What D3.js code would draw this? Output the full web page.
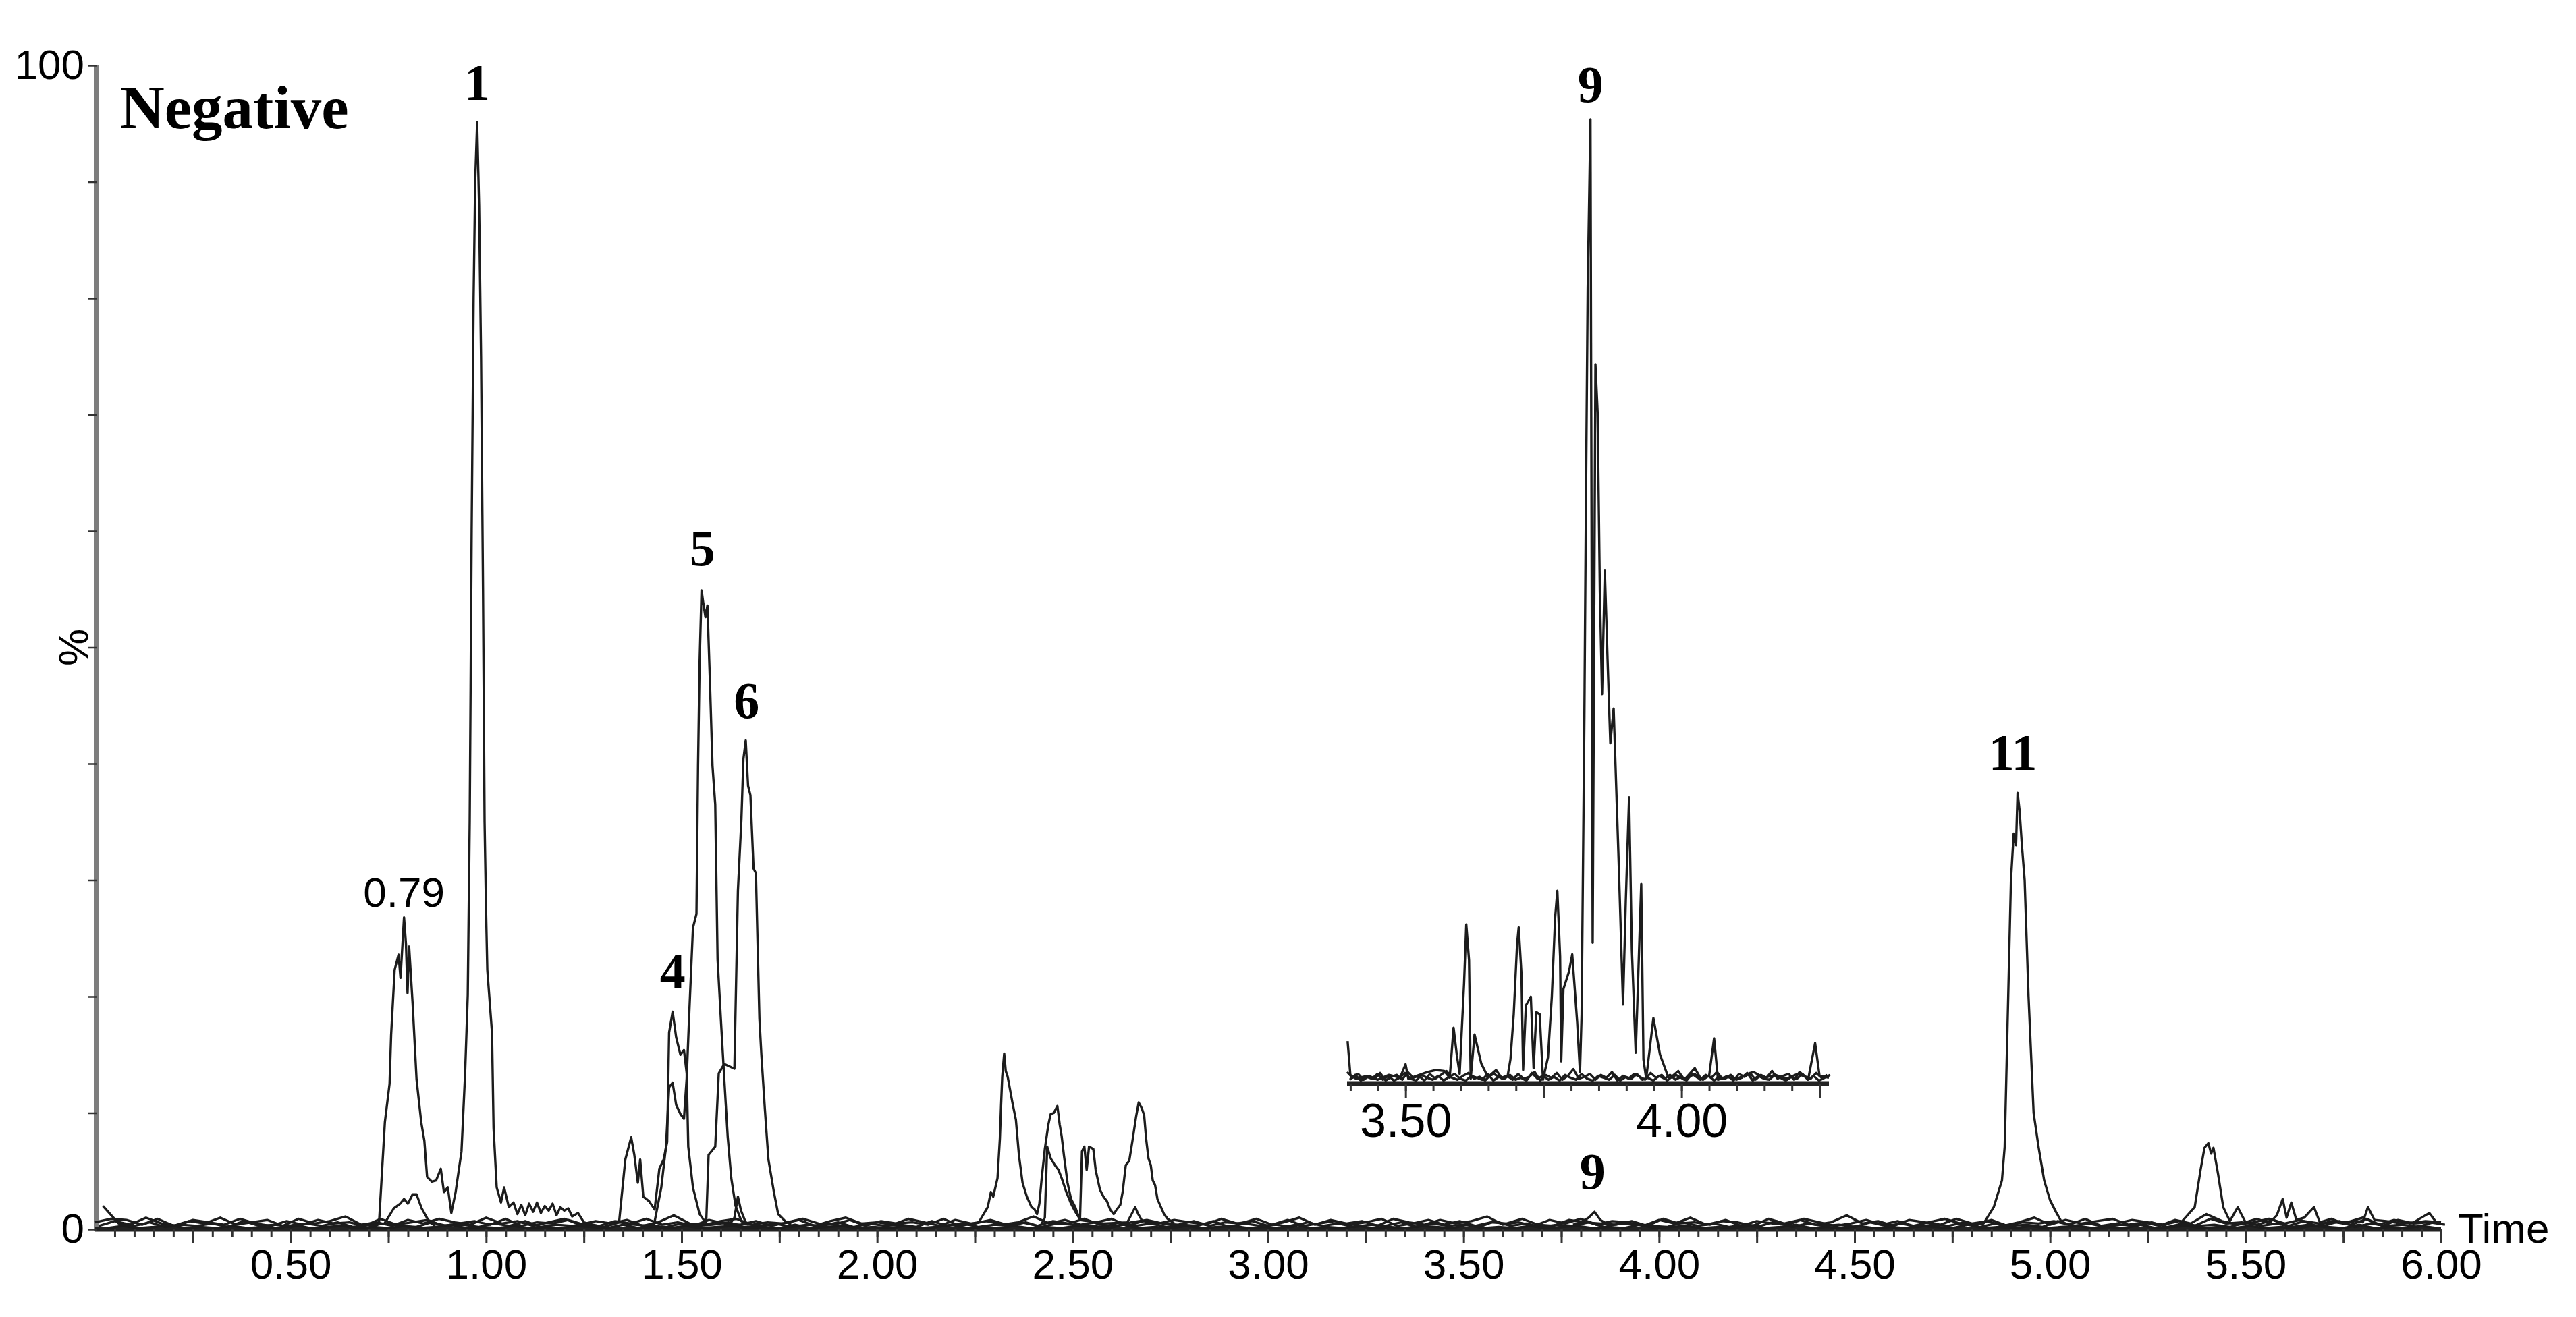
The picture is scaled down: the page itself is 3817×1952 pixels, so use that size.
<!DOCTYPE html>
<meta charset="utf-8">
<style>
    body { margin: 0; background: #fff; }
    svg { display: block; background: #fff; }

    .trace {
        fill: none;
        stroke: #1c1c1c;
        stroke-width: 3.4px;
        stroke-linejoin: round;
    }

    .axis-line {
        stroke: #7d7d7d;
        stroke-width: 6px;
    }

    .base-line {
        stroke: #222;
        stroke-width: 7px;
    }

    .axis .tick line {
        stroke: #333;
        stroke-width: 3px;
    }

    .axis text {
        font-family: "Liberation Sans", Arial, sans-serif;
        font-size: 62px;
        fill: #000;
    }

    .inset-axis text {
        font-size: 70px;
    }

    .peak-label {
        font-family: "Liberation Serif", "Times New Roman", serif;
        font-weight: bold;
        font-size: 76px;
        fill: #000;
    }

    .plain-label {
        font-family: "Liberation Sans", Arial, sans-serif;
        font-size: 62px;
        fill: #000;
    }
</style>
<svg width="3817" height="1952"></svg>
<script src="https://d3js.org/d3.v7.min.js"></script>
<script>
    // ---- data (time in min, intensity in %) ----

    // peak at 0.79 min running into peak 1
    var tracePeak1 = [[0.70,0.4],[0.715,0.2],[0.726,0.5],[0.741,9.2],[0.753,12.5],[0.757,16.7],[0.766,22.3],
        [0.776,23.6],[0.781,21.6],[0.79,26.8],[0.795,24.5],[0.799,20.3],[0.803,24.3],[0.812,19.4],[0.822,12.9],
        [0.834,9.2],[0.842,7.6],[0.849,4.5],[0.861,4.1],[0.872,4.2],[0.884,5.2],[0.892,3.2],[0.902,3.6],
        [0.911,1.4],[0.922,3.2],[0.937,6.7],[0.946,13.2],[0.953,20.1],[0.958,35],[0.963,60],[0.968,80],
        [0.972,90],[0.977,95.1],[0.982,88],[0.987,75],[0.992,55],[0.996,35],[1.0,27],[1.003,22.3],
        [1.015,16.9],[1.019,8.7],[1.027,3.6],[1.038,2.3],[1.046,3.6],[1.058,1.9],[1.07,2.3],[1.08,1.3],
        [1.09,2.1],[1.10,1.2],[1.11,2.2],[1.12,1.5],[1.13,2.3],[1.14,1.4],[1.15,2.0],[1.16,1.6],[1.17,2.2],
        [1.18,1.2],[1.19,1.9],[1.20,1.6],[1.21,1.8],[1.22,1.1],[1.235,1.4],[1.25,0.6],[1.27,0.4]];

    var traceSmall079 = [[0.70,0.3],[0.74,0.5],[0.764,1.8],[0.78,2.2],[0.79,2.6],[0.80,2.2],[0.812,3.0],
        [0.822,3.0],[0.835,1.8],[0.855,0.6],[0.87,0.3]];

    var tracePeak4 = [[1.32,0.4],[1.34,0.6],[1.356,6.0],[1.371,7.9],[1.379,6.4],[1.388,4.0],[1.394,6.0],
        [1.402,2.8],[1.417,2.4],[1.431,1.7],[1.443,5.2],[1.454,6.0],[1.463,7.5],[1.468,16.9],[1.477,18.7],
        [1.486,16.5],[1.497,15.0],[1.506,15.4],[1.513,13.4],[1.517,7.1],[1.529,3.6],[1.546,1.3],[1.563,0.5]];

    var tracePeak5 = [[1.42,0.4],[1.43,0.5],[1.448,3.6],[1.46,7.1],[1.468,12.2],[1.477,12.6],[1.486,10.7],
        [1.497,9.9],[1.506,9.5],[1.513,13.0],[1.52,18.9],[1.529,25.9],[1.538,27.1],[1.542,39.8],[1.546,48.7],
        [1.551,54.9],[1.555,53.9],[1.561,52.6],[1.566,53.6],[1.572,47.5],[1.579,39.8],[1.586,36.5],
        [1.592,23.2],[1.601,17.7],[1.609,13.0],[1.618,7.9],[1.627,4.4],[1.638,2.0],[1.653,0.7],[1.67,0.4]];

    var tracePeak6 = [[1.55,0.4],[1.563,0.7],[1.569,6.4],[1.586,7.1],[1.595,13.4],[1.609,14.2],[1.635,13.8],
        [1.644,29.1],[1.653,35.3],[1.658,40.4],[1.664,42.0],[1.67,38.1],[1.676,37.3],[1.684,31.0],[1.69,30.6],
        [1.699,18.1],[1.704,15.0],[1.713,10.3],[1.722,6.0],[1.736,3.2],[1.747,1.3],[1.765,0.7],[1.78,0.4]];

    var traceSmall16 = [[1.62,0.3],[1.635,1.0],[1.644,2.8],[1.652,1.6],[1.665,0.5]];

    var traceMid = [[2.24,0.4],[2.26,0.6],[2.283,1.9],[2.291,3.2],[2.297,2.8],[2.308,4.4],[2.314,7.8],
        [2.317,10.6],[2.32,13.1],[2.325,15.1],[2.329,13.6],[2.334,13.1],[2.346,10.9],[2.355,9.4],[2.363,6.3],
        [2.372,4.0],[2.383,2.8],[2.395,1.9],[2.403,1.7],[2.409,1.3],[2.415,2.2],[2.421,4.4],[2.429,6.9],
        [2.438,9.0],[2.444,9.9],[2.452,10.0],[2.461,10.6],[2.467,9.0],[2.472,8.0],[2.478,6.3],[2.487,4.0],
        [2.496,2.6],[2.507,1.9],[2.513,1.3],[2.519,0.9],[2.524,6.7],[2.53,7.1],[2.536,5.1],[2.542,7.1],
        [2.553,6.9],[2.559,5.1],[2.57,3.4],[2.579,2.8],[2.588,2.4],[2.596,1.7],[2.605,1.3],[2.613,1.7],
        [2.622,2.1],[2.628,3.2],[2.636,5.5],[2.645,5.9],[2.654,7.8],[2.662,9.6],[2.669,10.9],[2.677,10.4],
        [2.683,9.8],[2.688,7.8],[2.694,6.1],[2.70,5.5],[2.705,4.2],[2.711,3.8],[2.717,2.6],[2.726,1.9],
        [2.734,1.3],[2.743,0.9],[2.76,0.5]];

    var traceMid2 = [[2.42,0.4],[2.429,1.0],[2.435,7.1],[2.444,6.1],[2.455,5.5],[2.464,5.1],[2.472,4.4],
        [2.484,3.2],[2.496,2.2],[2.507,1.5],[2.52,0.8],[2.58,0.5],[2.64,0.6],[2.651,1.3],[2.66,1.9],
        [2.668,1.3],[2.68,0.6]];

    var trace9 = [[3.78,0.4],[3.80,0.6],[3.82,1.0],[3.835,1.5],[3.85,0.8],[3.87,0.4]];

    var trace11 = [[4.80,0.4],[4.83,0.5],[4.856,1.9],[4.877,4.2],[4.884,7.1],[4.893,20],[4.90,30],[4.907,34],
        [4.913,33],[4.917,37.5],[4.922,36],[4.928,33],[4.935,30],[4.945,20],[4.958,10],[4.971,7],[4.985,4.2],
        [5.0,2.5],[5.015,1.5],[5.03,0.6],[5.05,0.4]];

    var traceLate = [[5.33,0.4],[5.37,1.9],[5.385,5.1],[5.395,7.0],[5.405,7.4],[5.412,6.5],[5.418,7.0],
        [5.43,4.7],[5.443,1.9],[5.46,0.7],[5.48,1.9],[5.50,0.6],[5.53,0.9],[5.56,0.5],[5.58,1.2],[5.595,2.6],
        [5.605,1.0],[5.617,2.3],[5.63,0.8],[5.65,1.0],[5.675,1.9],[5.69,0.6],[5.72,0.9],[5.75,0.5],
        [5.78,0.7],[5.80,0.6],[5.813,1.9],[5.83,0.8],[5.86,0.7],[5.90,0.5],[5.93,0.6],[5.97,1.4],[5.99,0.5]];

    // baseline noise of the other channels, one value every noiseStep min
    var noiseStep = 0.04;
    var noiseA = [0.6,0.9,0.8,0.4,0.9,0.3,0.7,0.5,1.0,0.4,0.6,0.8,0.3,0.9,0.5,0.7,1.1,0.4,0.6,0.3,
        0.8,0.5,0.9,0.6,0.4,1.0,0.5,0.7,0.3,0.6,0.9,0.4,0.7,0.5,0.8,0.3,0.6,1.2,0.5,0.4,
        0.7,0.9,0.4,0.6,0.5,0.8,0.3,0.7,1.0,0.5,0.6,0.4,0.9,0.6,0.3,0.8,0.5,0.7,0.4,0.6,
        1.1,0.5,0.8,0.4,0.6,0.9,0.3,0.7,0.5,0.8,0.6,0.4,0.9,0.5,0.7,0.3,0.6,1.0,0.4,0.8,
        0.5,0.7,0.3,0.9,0.6,0.4,0.8,0.5,0.7,1.1,0.4,0.6,0.3,0.8,0.5,0.9,0.4,0.7,0.6,0.3,
        0.8,0.5,1.0,0.4,0.7,0.6,0.3,0.9,0.5,0.8,0.4,0.6,1.2,0.5,0.7,0.3,0.8,0.6,0.4,0.9,
        0.5,0.7,0.3,0.6,1.0,0.4,0.8,0.5,0.7,0.9,0.4,0.6,0.3,0.8,0.5,1.3,0.7,0.4,0.6,0.9,
        0.5,0.8,0.3,0.7,0.6,1.0,0.4,0.8,0.5,0.7,0.6];
    var noiseB = [0.3,0.7,0.4,1.0,0.5,0.3,0.8,0.6,0.4,0.9,0.5,0.3,0.7,0.4,0.8,0.5,0.6,0.3,0.9,0.4,
        0.6,0.8,0.3,0.5,0.7,0.4,0.9,0.3,0.6,0.5,0.8,0.4,0.3,0.7,0.5,0.9,0.4,0.6,0.3,0.8,
        0.5,0.4,0.7,0.3,0.6,0.9,0.5,0.4,0.8,0.3,0.7,0.5,0.6,0.4,0.9,0.3,0.5,0.8,0.4,0.6,
        0.3,0.7,0.5,0.9,0.4,0.3,0.6,0.8,0.5,0.4,0.7,0.3,0.6,0.5,0.9,0.4,0.8,0.3,0.5,0.7,
        0.4,0.6,0.9,0.3,0.5,0.8,0.4,0.7,0.3,0.6,0.5,0.9,0.4,0.3,0.8,0.6,0.5,0.4,0.7,0.3,
        0.9,0.5,0.6,0.4,0.8,0.3,0.7,0.5,0.4,0.9,0.6,0.3,0.5,0.8,0.4,0.7,0.3,0.6,0.9,0.5,
        0.4,0.8,0.3,0.6,0.5,0.7,0.4,0.9,0.3,0.5,0.8,0.6,0.4,0.7,0.3,0.9,0.5,0.6,0.4,0.8,
        0.3,0.7,0.5,0.6,0.4,0.9,0.3,0.8,0.5,0.6,0.4];
    var noiseC = [2.0,0.5,0.3,0.6,0.2,0.4,0.3,0.5,0.2,0.7,0.3,0.4,0.2,0.5,0.3,0.6,0.2,0.4,0.5,0.3,
        0.2,0.6,0.3,0.4,0.2,0.5,0.3,0.7,0.2,0.4,0.3,0.5,0.2,0.6,0.4,0.3,0.2,0.5,0.3,0.4,
        0.6,0.2,0.3,0.5,0.2,0.4,0.3,0.6,0.2,0.5,0.3,0.4,0.2,0.7,0.3,0.5,0.2,0.4,0.3,0.6,
        0.2,0.5,0.4,0.3,0.2,0.6,0.3,0.5,0.2,0.4,0.3,0.7,0.2,0.5,0.3,0.4,0.2,0.6,0.3,0.5,
        0.2,0.4,0.3,0.6,0.2,0.5,0.3,0.4,0.2,0.7,0.3,0.5,0.2,0.4,0.3,0.6,0.2,0.5,0.4,0.3,
        0.2,0.6,0.3,0.5,0.2,0.4,0.3,0.7,0.2,0.5,0.3,0.4,0.2,0.6,0.3,0.5,0.2,0.4,0.3,0.6,
        0.2,0.5,0.3,0.4,0.2,0.7,0.3,0.5,0.2,0.4,0.3,0.6,0.2,0.5,0.3,0.4,0.2,0.6,0.3,0.5,
        0.2,0.4,0.3,0.7,0.2,0.5,0.3,0.4,0.2,0.6];
    var noiseD = [0.1,0.3,0.1,0.2,0.4,0.1,0.2,0.1,0.3,0.1,0.2,0.1,0.4,0.1,0.2,0.3,0.1,0.2,0.1,0.3,
        0.1,0.2,0.4,0.1,0.2,0.1,0.3,0.1,0.2,0.1,0.3,0.2,0.1,0.4,0.1,0.2,0.1,0.3,0.1,0.2,
        0.3,0.1,0.2,0.1,0.4,0.1,0.2,0.3,0.1,0.2,0.1,0.3,0.1,0.2,0.4,0.1,0.2,0.1,0.3,0.1,
        0.2,0.1,0.3,0.2,0.1,0.4,0.1,0.2,0.1,0.3,0.1,0.2,0.3,0.1,0.2,0.1,0.4,0.1,0.2,0.1,
        0.3,0.1,0.2,0.1,0.3,0.2,0.1,0.4,0.1,0.2,0.1,0.3,0.1,0.2,0.3,0.1,0.2,0.1,0.4,0.1,
        0.2,0.3,0.1,0.2,0.1,0.3,0.1,0.2,0.4,0.1,0.2,0.1,0.3,0.1,0.2,0.1,0.3,0.2,0.1,0.4,
        0.1,0.2,0.1,0.3,0.1,0.2,0.3,0.1,0.2,0.1,0.4,0.1,0.2,0.3,0.1,0.2,0.1,0.3,0.1,0.2,
        0.1,0.3,0.2,0.1,0.4,0.1,0.2,0.1,0.3,0.1];

    // inset: compound 9 channel, % of its own maximum
    var insetTrace9 = [[3.395,4.4],[3.40,0.9],[3.41,0.5],[3.43,0.8],[3.45,0.4],[3.47,0.9],[3.49,0.6],
        [3.50,2.0],[3.505,0.5],[3.52,0.8],[3.54,1.2],[3.555,1.4],[3.57,1.3],[3.58,0.6],[3.587,5.8],
        [3.593,2.9],[3.598,1.0],[3.606,10.4],[3.61,16.5],[3.615,12.8],[3.618,0.5],[3.625,5.1],[3.637,2.1],
        [3.649,0.7],[3.66,1.0],[3.675,0.5],[3.685,0.8],[3.69,2.5],[3.696,7.2],[3.702,14.4],[3.705,16.2],
        [3.71,11.4],[3.713,1.4],[3.718,8.1],[3.727,9.0],[3.732,1.6],[3.737,7.4],[3.743,7.2],[3.749,0.4],
        [3.758,2.7],[3.765,9.0],[3.771,17.2],[3.775,20.0],[3.78,13.2],[3.782,2.3],[3.786,9.8],[3.796,11.6],
        [3.802,13.4],[3.811,6.3],[3.816,1.2],[3.819,7.2],[3.824,38.2],[3.827,61.8],[3.83,82.5],[3.835,100],
        [3.839,14.6],[3.844,74.6],[3.848,69.6],[3.852,51.1],[3.856,40.4],[3.861,53.2],[3.866,44.0],
        [3.871,35.3],[3.877,38.9],[3.886,23.2],[3.894,8.2],[3.899,18.9],[3.905,29.7],[3.91,13.9],[3.917,3.2],
        [3.927,20.7],[3.931,2.5],[3.936,0.5],[3.949,6.8],[3.961,3.0],[3.977,0.5],[3.99,0.9],[4.005,0.4],
        [4.024,1.6],[4.035,0.5],[4.05,0.8],[4.059,4.7],[4.066,0.4],[4.08,0.7],[4.10,0.5],[4.13,1.2],
        [4.15,0.6],[4.17,0.9],[4.19,0.5],[4.21,1.0],[4.23,0.6],[4.242,4.2],[4.25,0.8],[4.267,0.6]];

    var insetStart = 3.394, insetStep = 0.01;
    var insetNoiseA = [1.2,0.6,1.0,0.4,0.8,0.5,1.1,0.3,0.7,0.9,0.4,1.2,0.6,0.8,0.3,1.0,0.5,0.9,1.3,0.6,
        0.4,0.8,1.1,0.5,0.7,0.3,0.9,1.4,0.6,0.8,0.4,1.0,0.5,0.7,1.2,0.3,0.9,0.6,1.1,0.4,
        0.8,1.5,0.5,0.7,1.0,0.4,0.9,0.6,1.2,0.3,0.8,0.5,1.0,0.7,0.4,1.1,0.6,0.9,0.3,0.8,
        1.3,0.5,0.7,1.0,0.4,0.9,0.6,1.2,0.5,0.8,0.3,1.0,0.7,1.1,0.4,0.9,0.6,1.3,0.5,0.8,
        1.0,0.4,1.2,0.7,0.5,1.1,0.6,0.9];
    var insetNoiseB = [0.4,0.9,0.3,0.7,0.5,1.0,0.4,0.8,0.3,0.6,1.1,0.5,0.3,0.9,0.6,0.4,0.8,0.3,0.7,1.0,
        0.5,0.3,0.8,0.6,0.4,1.0,0.3,0.7,0.5,0.9,0.4,0.6,0.3,1.1,0.5,0.8,0.4,0.7,0.3,0.9,
        0.6,0.4,1.0,0.5,0.3,0.8,0.6,0.4,0.9,0.3,0.7,0.5,1.0,0.4,0.6,0.3,0.8,0.5,0.9,0.4,
        0.7,0.3,1.0,0.6,0.4,0.8,0.3,0.7,0.5,0.9,0.4,0.6,1.1,0.3,0.8,0.5,0.4,0.9,0.6,0.3,
        0.7,0.5,1.0,0.4,0.8,0.3,0.6,0.9];

    // axis ticks
    var mainLabelTicks = [0.5, 1, 1.5, 2, 2.5, 3, 3.5, 4, 4.5, 5, 5.5, 6];
    var mainMajorTicks = [0.25, 0.5, 0.75, 1, 1.25, 1.5, 1.75, 2, 2.25, 2.5, 2.75, 3, 3.25, 3.5, 3.75, 4,
        4.25, 4.5, 4.75, 5, 5.25, 5.5, 5.75, 6];
    var yTicks = [0, 10, 20, 30, 40, 50, 60, 70, 80, 90, 100];
    var yLabelTicks = [0, 100];
    var insetLabelTicks = [3.5, 4];
    var insetMajorTicks = [3.5, 3.75, 4, 4.25];

    // annotations: label text, retention time, peak height (%)
    var peakLabels = [
        {text: "1", t: 0.977, v: 95.1},
        {text: "4", t: 1.477, v: 18.7},
        {text: "5", t: 1.553, v: 55.1},
        {text: "6", t: 1.666, v: 42.0},
        {text: "9", t: 3.83, v: 1.5},
        {text: "11", t: 4.905, v: 37.5}
    ];
    var rtLabels = [{text: "0.79", t: 0.79, v: 26.8}];
    var insetLabels = [{text: "9", t: 3.835, v: 100}];

    // ---- drawing ----
    var svg = d3.select("svg");

    var x = d3.scaleLinear().domain([0, 6]).range([141, 3617]);
    var y = d3.scaleLinear().domain([0, 100]).range([1822, 97]);
    var ix = d3.scaleLinear().domain([insetStart, 4.267]).range([1996, 2710]);
    var iy = d3.scaleLinear().domain([0, 100]).range([1606, 177]);

    var fmt = d3.format(".2f");
    function near(list, d) {
        return list.some(function(v) { return Math.abs(v - d) < 1e-6; });
    }
    function sampled(values, start, step) {
        return values.map(function(v, i) { return [start + i * step, v]; });
    }
    function stepTicks(from, to) {
        var out = [];
        for (var i = Math.round(from * 20); i <= Math.round(to * 20); i++) out.push(i / 20);
        return out;
    }

    // axis lines
    svg.append("line").attr("class", "axis-line")
        .attr("x1", x(0) + 2).attr("x2", x(0) + 2).attr("y1", y(100)).attr("y2", y(0) + 3);
    svg.append("line").attr("class", "base-line")
        .attr("x1", x(0)).attr("x2", x(6)).attr("y1", y(0)).attr("y2", y(0));
    svg.append("line").attr("class", "base-line")
        .attr("x1", ix(insetStart)).attr("x2", ix(4.267)).attr("y1", iy(0)).attr("y2", iy(0));

    // main x axis: short ticks every 0.05, long ones every 0.25, labels every 0.5
    var minorX = svg.append("g").attr("class", "axis")
        .attr("transform", "translate(0," + y(0) + ")")
        .call(d3.axisBottom(x).tickValues(stepTicks(0.05, 6)).tickSize(11).tickFormat(""));
    minorX.select(".domain").remove();

    var majorX = svg.append("g").attr("class", "axis")
        .attr("transform", "translate(0," + y(0) + ")")
        .call(d3.axisBottom(x).tickValues(mainMajorTicks).tickSize(21).tickPadding(8)
            .tickFormat(function(d) { return near(mainLabelTicks, d) ? fmt(d) : ""; }));
    majorX.select(".domain").remove();

    // y axis
    var yAxis = svg.append("g").attr("class", "axis")
        .attr("transform", "translate(" + (x(0) + 2) + ",0)")
        .call(d3.axisLeft(y).tickValues(yTicks).tickSize(12).tickPadding(6)
            .tickFormat(function(d) { return near(yLabelTicks, d) ? d : ""; }));
    yAxis.select(".domain").remove();
    yAxis.selectAll(".tick line").style("stroke-width", "2.5px");

    svg.append("text").attr("class", "plain-label")
        .attr("transform", "translate(130," + y(50) + ") rotate(-90)")
        .attr("text-anchor", "middle")
        .text("%");

    svg.append("text").attr("class", "plain-label")
        .attr("x", 3642).attr("y", 1842)
        .text("Time");

    // inset axis
    var insetMinor = svg.append("g").attr("class", "axis inset-axis")
        .attr("transform", "translate(0," + iy(0) + ")")
        .call(d3.axisBottom(ix).tickValues(stepTicks(3.4, 4.25)).tickSize(11).tickFormat(""));
    insetMinor.select(".domain").remove();

    var insetMajor = svg.append("g").attr("class", "axis inset-axis")
        .attr("transform", "translate(0," + iy(0) + ")")
        .call(d3.axisBottom(ix).tickValues(insetMajorTicks).tickSize(21).tickPadding(8)
            .tickFormat(function(d) { return near(insetLabelTicks, d) ? fmt(d) : ""; }));
    insetMajor.select(".domain").remove();

    // traces
    var mainLine = d3.line()
        .x(function(d) { return x(d[0]); })
        .y(function(d) { return y(d[1]); });
    var insetLine = d3.line()
        .x(function(d) { return ix(d[0]); })
        .y(function(d) { return iy(d[1]); });

    var mainTraces = [
        sampled(noiseA, 0, noiseStep),
        sampled(noiseB, 0.01, noiseStep),
        sampled(noiseC, 0.02, noiseStep),
        sampled(noiseD, 0.03, noiseStep),
        tracePeak1, traceSmall079, tracePeak4, tracePeak5, tracePeak6, traceSmall16,
        traceMid, traceMid2, trace9, trace11, traceLate
    ];

    svg.append("g")
        .selectAll("path")
        .data(mainTraces)
        .enter().append("path")
        .attr("class", "trace")
        .attr("d", mainLine);

    var insetTraces = [
        sampled(insetNoiseA, insetStart, insetStep),
        sampled(insetNoiseB, insetStart + 0.005, insetStep),
        insetTrace9
    ];

    svg.append("g")
        .selectAll("path")
        .data(insetTraces)
        .enter().append("path")
        .attr("class", "trace")
        .attr("d", insetLine);

    // labels
    svg.append("text").attr("class", "peak-label")
        .attr("x", 178).attr("y", 190)
        .style("font-size", "91px")
        .text("Negative");

    svg.append("g")
        .selectAll("text")
        .data(peakLabels)
        .enter().append("text")
        .attr("class", "peak-label")
        .attr("text-anchor", "middle")
        .attr("x", function(d) { return x(d.t); })
        .attr("y", function(d) { return y(d.v) - 34; })
        .text(function(d) { return d.text; });

    svg.append("g")
        .selectAll("text")
        .data(rtLabels)
        .enter().append("text")
        .attr("class", "plain-label")
        .attr("text-anchor", "middle")
        .attr("x", function(d) { return x(d.t); })
        .attr("y", function(d) { return y(d.v) - 16; })
        .text(function(d) { return d.text; });

    svg.append("g")
        .selectAll("text")
        .data(insetLabels)
        .enter().append("text")
        .attr("class", "peak-label")
        .attr("text-anchor", "middle")
        .attr("x", function(d) { return ix(d.t); })
        .attr("y", function(d) { return iy(d.v) - 26; })
        .text(function(d) { return d.text; });
</script>
